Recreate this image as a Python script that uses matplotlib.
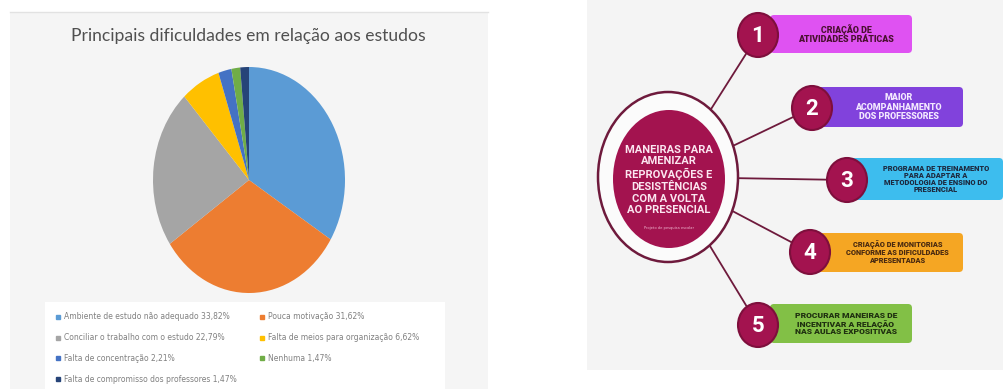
import matplotlib
matplotlib.use("Agg")
import matplotlib.pyplot as plt
from matplotlib.patches import Ellipse, FancyBboxPatch, Rectangle
from matplotlib.lines import Line2D

# ---- data -------------------------------------------------------------
pie_title = "Principais dificuldades em relação aos estudos"
pie_labels = [
    "Ambiente de estudo não adequado",
    "Pouca motivação",
    "Conciliar o trabalho com o estudo",
    "Falta de meios para organização",
    "Falta de concentração",
    "Nenhuma",
    "Falta de compromisso dos professores",
]
pie_values = [33.82, 31.62, 22.79, 6.62, 2.21, 1.47, 1.47]
pie_colors = ["#5b9bd5", "#ed7d31", "#a5a5a5", "#ffc000", "#4472c4", "#70ad47", "#264478"]

hub_text = "MANEIRAS PARA\nAMENIZAR\nREPROVAÇÕES E\nDESISTÊNCIAS\nCOM A VOLTA\nAO PRESENCIAL"
hub_note = "Projeto de pesquisa escolar"
step_numbers = ["1", "2", "3", "4", "5"]
step_texts = [
    "CRIAÇÃO DE\nATIVIDADES PRÁTICAS",
    "MAIOR\nACOMPANHAMENTO\nDOS PROFESSORES",
    "PROGRAMA DE TREINAMENTO\nPARA ADAPTAR A\nMETODOLOGIA DE ENSINO DO\nPRESENCIAL",
    "CRIAÇÃO DE MONITORIAS\nCONFORME AS DIFICULDADES\nAPRESENTADAS",
    "PROCURAR MANEIRAS DE\nINCENTIVAR A RELAÇÃO\nNAS AULAS EXPOSITIVAS",
]
step_colors = ["#df52f2", "#8142dc", "#3dbdee", "#f5a623", "#82c046"]
step_text_colors = ["#4a1030", "#f3e8ff", "#1d2a40", "#4a2a10", "#1f3010"]

# ---- figure -----------------------------------------------------------
W, H = 1004, 389
fig = plt.figure(figsize=(W / 100, H / 100), dpi=100, facecolor="white")
bg = fig.add_axes([0, 0, 1, 1])
bg.set_xlim(0, W)
bg.set_ylim(H, 0)
bg.axis("off")

# left panel: chart area
bg.add_patch(Rectangle((10, 12), 478, 377, facecolor="#f5f5f5", edgecolor="none", zorder=0))
bg.plot([10, 488], [12, 12], color="#e2e2e2", lw=1.0, zorder=1)
bg.add_patch(Rectangle((45, 302), 400, 87, facecolor="white", edgecolor="none", zorder=1))
bg.text(248, 36, pie_title, ha="center", va="center", fontsize=12.6,
        color="#505050", family="Lato", zorder=2)

# elliptical pie (axes not forced to equal aspect)
pl, pr, pt, pb = 153, 345, 67, 293
pax = fig.add_axes([pl / W, 1 - pb / H, (pr - pl) / W, (pb - pt) / H])
wedges, _ = pax.pie(pie_values, colors=pie_colors, startangle=90, counterclock=False,
                    wedgeprops=dict(linewidth=0))
pax.set_aspect("auto")
pax.set_xlim(-1, 1)
pax.set_ylim(-1, 1)
pax.axis("off")

# legend filled row by row (two columns)
entries = [
    Line2D([], [], marker="s", linestyle="none", markersize=2.8,
           markerfacecolor=c, markeredgecolor=c)
    for c in pie_colors
]
texts = [f"{lab} {v:.2f}%".replace(".", ",") for lab, v in zip(pie_labels, pie_values)]
order = [0, 2, 4, 6, 1, 3, 5]
leg = bg.legend([entries[i] for i in order], [texts[i] for i in order],
                ncol=2, loc="upper left", bbox_to_anchor=(50, 307),
                bbox_transform=bg.transData, frameon=False, fontsize=5.5,
                labelcolor="#808080", handlelength=0.7, handletextpad=0.4,
                labelspacing=1.55, columnspacing=3.0, borderpad=0.2)
leg.set_zorder(3)

# right panel: infographic
bg.add_patch(Rectangle((587, 0), 417, 370, facecolor="#f4f4f4", edgecolor="none", zorder=0))

maroon = "#a3134f"
line_col = "#6e1a3c"
hx, hy, hrx, hry = 668, 177, 70, 85
step_centers = [(758, 35), (812, 108), (847, 180), (810, 252), (758, 325)]
box_spans = [(770, 912, 15, 53), (805, 963, 87, 127), (840, 1003, 158, 200),
             (805, 963, 233, 272), (770, 912, 304, 343)]

# connectors from outer ring to each numbered badge
for (cx, cy) in step_centers:
    dx, dy = cx - hx, cy - hy
    t = 1 / ((dx / hrx) ** 2 + (dy / hry) ** 2) ** 0.5
    bg.plot([hx + dx * t, cx], [hy + dy * t, cy], color=line_col, lw=1.3, zorder=2)

bg.add_patch(Ellipse((hx, hy), 2 * hrx, 2 * hry, facecolor="#fbfbfb",
                     edgecolor=line_col, lw=1.8, zorder=3))
bg.add_patch(Ellipse((669, 179), 112, 138, facecolor=maroon, edgecolor="none", zorder=4))
bg.text(669, 180, hub_text, ha="center", va="center", fontsize=8.0, fontweight="bold",
        color="#fbe6f0", family="Roboto", linespacing=1.2, zorder=5)
bg.text(669, 228, hub_note, ha="center", va="center", fontsize=2.6,
        color="#f0b8d0", zorder=5)

for (cx, cy), (x0, x1, y0, y1), num, txt, fc, tc in zip(
        step_centers, box_spans, step_numbers, step_texts, step_colors, step_text_colors):
    bg.add_patch(FancyBboxPatch((x0, y0), x1 - x0, y1 - y0,
                                boxstyle="round,pad=0,rounding_size=4",
                                facecolor=fc, edgecolor="none", zorder=3))
    bg.add_patch(Ellipse((cx, cy), 40, 44, facecolor=maroon, edgecolor="#7e0f3c",
                         lw=1.5, zorder=4))
    bg.text(cx, cy + 1, num, ha="center", va="center", fontsize=16, fontweight="bold",
            color="white", family="Roboto", zorder=5)
    lines = txt.split("\n")
    tx0 = cx + 22
    avail = x1 - tx0 - 4
    fs = min(6.4, avail / max(len(s) for s in lines) / 0.72 * 0.72)
    bg.text((tx0 + x1) / 2, (y0 + y1) / 2, txt, ha="center", va="center",
            fontsize=fs, fontweight="black", color=tc, family="Roboto",
            linespacing=1.05, zorder=5)

fig.savefig("out.png", dpi=100, facecolor="white")
